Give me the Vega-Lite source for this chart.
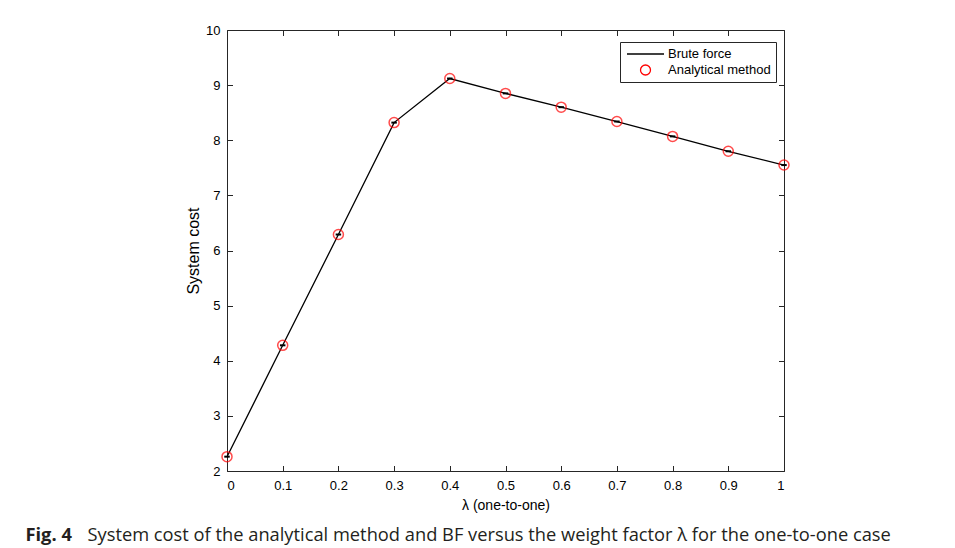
{
  "$schema": "https://vega.github.io/schema/vega-lite/v6.json",
  "width": 557,
  "height": 441,
  "autosize": {"type": "none"},
  "padding": {"left": 227, "top": 30, "right": 171, "bottom": 77},
  "background": "white",
  "config": {
    "view": {"stroke": null},
    "font": "Liberation Sans",
    "axis": {
      "grid": false,
      "domainColor": "#262626",
      "tickColor": "#262626",
      "labelColor": "#000000",
      "titleColor": "#000000",
      "labelFont": "Liberation Sans",
      "titleFont": "Liberation Sans",
      "labelFontSize": 13,
      "titleFontSize": 14,
      "titleFontWeight": "normal",
      "tickSize": -5.5,
      "domainWidth": 1,
      "tickWidth": 1
    }
  },
  "data": {
    "values": [
      {"lambda": 0.0, "cost": 2.26, "series": "Brute force"},
      {"lambda": 0.1, "cost": 4.28, "series": "Brute force"},
      {"lambda": 0.2, "cost": 6.29, "series": "Brute force"},
      {"lambda": 0.3, "cost": 8.32, "series": "Brute force"},
      {"lambda": 0.4, "cost": 9.12, "series": "Brute force"},
      {"lambda": 0.5, "cost": 8.85, "series": "Brute force"},
      {"lambda": 0.6, "cost": 8.6, "series": "Brute force"},
      {"lambda": 0.7, "cost": 8.34, "series": "Brute force"},
      {"lambda": 0.8, "cost": 8.07, "series": "Brute force"},
      {"lambda": 0.9, "cost": 7.8, "series": "Brute force"},
      {"lambda": 1.0, "cost": 7.55, "series": "Brute force"},
      {"lambda": 0.0, "cost": 2.26, "series": "Analytical method"},
      {"lambda": 0.1, "cost": 4.28, "series": "Analytical method"},
      {"lambda": 0.2, "cost": 6.29, "series": "Analytical method"},
      {"lambda": 0.3, "cost": 8.32, "series": "Analytical method"},
      {"lambda": 0.4, "cost": 9.12, "series": "Analytical method"},
      {"lambda": 0.5, "cost": 8.85, "series": "Analytical method"},
      {"lambda": 0.6, "cost": 8.6, "series": "Analytical method"},
      {"lambda": 0.7, "cost": 8.34, "series": "Analytical method"},
      {"lambda": 0.8, "cost": 8.07, "series": "Analytical method"},
      {"lambda": 0.9, "cost": 7.8, "series": "Analytical method"},
      {"lambda": 1.0, "cost": 7.55, "series": "Analytical method"}
    ]
  },
  "layer": [
    {
      "transform": [{"filter": "datum.series === 'Brute force'"}],
      "mark": {"type": "line", "strokeWidth": 1.3},
      "encoding": {
        "x": {
          "field": "lambda", "type": "quantitative",
          "scale": {"domain": [0, 1], "nice": false, "zero": false},
          "axis": {
            "orient": "bottom",
            "values": [0, 0.1, 0.2, 0.3, 0.4, 0.5, 0.6, 0.7, 0.8, 0.9, 1],
            "format": "~g",
            "labelPadding": 14,
            "title": "λ (one-to-one)",
            "titlePadding": 6
          }
        },
        "y": {
          "field": "cost", "type": "quantitative",
          "scale": {"domain": [2, 10], "nice": false, "zero": false},
          "axis": {
            "orient": "left",
            "values": [2, 3, 4, 5, 6, 7, 8, 9, 10],
            "labelPadding": 12.5,
            "title": "System cost",
            "titleFontSize": 16,
            "titlePadding": 4
          }
        },
        "stroke": {
          "field": "series", "type": "nominal",
          "scale": {"domain": ["Brute force", "Analytical method"], "range": ["#000000", "#ff0000"]},
          "legend": {
            "title": null,
            "orient": "none",
            "legendX": 393,
            "legendY": 12,
            "strokeColor": "#262626",
            "fillColor": "white",
            "padding": 5,
            "symbolSize": 1369,
            "symbolOffset": 14,
            "symbolStrokeWidth": 1.3,
            "labelFont": "Liberation Sans",
            "labelFontSize": 13,
            "labelColor": "#000000",
            "labelOffset": 16,
            "rowPadding": 2,
            "clipHeight": 14,
            "encode": {
              "symbols": {
                "update": {
                  "size": {"signal": "datum.value === 'Brute force' ? 1369 : 100"}
                }
              }
            }
          }
        },
        "shape": {
          "field": "series", "type": "nominal",
          "scale": {"domain": ["Brute force", "Analytical method"], "range": ["stroke", "circle"]}
        }
      }
    },
    {
      "transform": [{"filter": "datum.series === 'Analytical method'"}],
      "mark": {"type": "point", "filled": false, "size": 100, "strokeWidth": 1.5},
      "encoding": {
        "x": {
          "field": "lambda", "type": "quantitative",
          "axis": {
            "orient": "top",
            "values": [0, 0.1, 0.2, 0.3, 0.4, 0.5, 0.6, 0.7, 0.8, 0.9, 1],
            "labels": false,
            "title": null
          }
        },
        "y": {
          "field": "cost", "type": "quantitative",
          "axis": {
            "orient": "right",
            "values": [2, 3, 4, 5, 6, 7, 8, 9, 10],
            "labels": false,
            "title": null
          }
        },
        "stroke": {"field": "series", "type": "nominal"},
        "shape": {"field": "series", "type": "nominal"}
      }
    },
    {
      "transform": [{"filter": "datum.series === 'Analytical method'"}],
      "mark": {"type": "point", "opacity": 0},
      "encoding": {
        "x": {
          "field": "lambda", "type": "quantitative",
          "axis": {
            "orient": "bottom",
            "domain": false,
            "ticks": false,
            "labels": false,
            "title": "System cost of the analytical method and BF versus the weight factor λ for the one-to-one case",
            "titleX": -140,
            "titleY": 69,
            "titleAlign": "left",
            "titleBaseline": "alphabetic",
            "titleFont": "Open Sans",
            "titleFontSize": 18.3,
            "titleColor": "#231f20"
          }
        },
        "y": {
          "field": "cost", "type": "quantitative",
          "axis": {
            "orient": "left",
            "domain": false,
            "ticks": false,
            "labels": false,
            "title": "Fig. 4",
            "titleAngle": 0,
            "titleX": -202,
            "titleY": 510,
            "titleAlign": "left",
            "titleBaseline": "alphabetic",
            "titleFont": "Open Sans",
            "titleFontSize": 18.3,
            "titleFontWeight": "bold",
            "titleColor": "#231f20"
          }
        }
      }
    }
  ],
  "resolve": {"axis": {"x": "independent", "y": "independent"}}
}
